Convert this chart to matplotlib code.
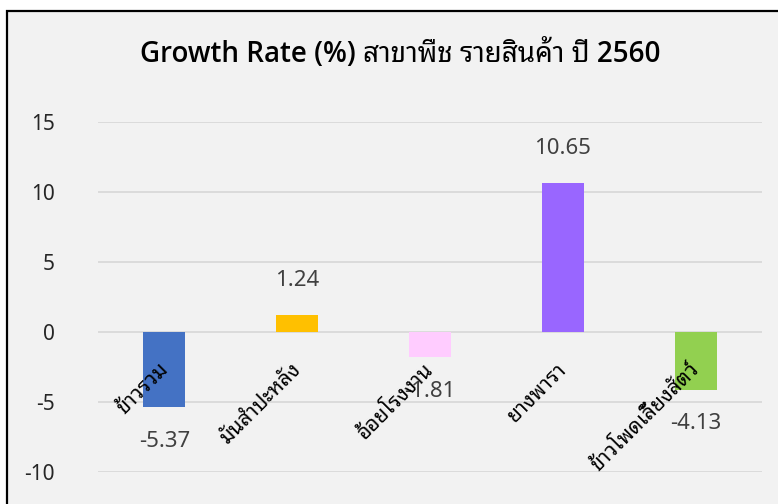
import matplotlib
matplotlib.use("Agg")
import matplotlib.pyplot as plt
from matplotlib.patches import Rectangle

plt.rcParams['font.family'] = ['Noto Sans', 'Noto Sans Thai Looped', 'DejaVu Sans']

categories = ['ข้าวรวม', 'มันสำปะหลัง', 'อ้อยโรงงาน', 'ยางพารา', 'ข้าวโพดเลี้ยงสัตว์']
growth = [-5.37, 1.24, -1.81, 10.65, -4.13]
colors = ['#4472C4', '#FFC000', '#FFCCFF', '#9966FF', '#92D050']
y_ticks = [-10, -5, 0, 5, 10, 15]
title = 'Growth Rate (%) สาขาพืช รายสินค้า ปี 2560'

fig = plt.figure(figsize=(7.78, 5.04), dpi=100, facecolor='white')

# gray chart panel with black frame on the left and top
W, H = 778, 504
panel = Rectangle((7 / W, -0.05), 1.05, (H - 11) / H + 0.05, transform=fig.transFigure,
                  facecolor='#F2F2F2', edgecolor='black', linewidth=1.6, zorder=-1)
fig.patches.append(panel)

ax = fig.add_axes([98 / W, (H - 472) / H, (762 - 98) / W, (472 - 122) / H])
ax.set_facecolor('none')

x = range(len(categories))
ax.bar(x, growth, width=0.316, color=colors, zorder=3)

ax.set_xlim(-0.5, len(categories) - 0.5)
ax.set_ylim(-10, 15)
ax.set_yticks(y_ticks)
ax.set_yticklabels([str(t) for t in y_ticks], fontsize=15, color='#262626')
ax.tick_params(axis='y', length=0, pad=31)
ax.set_xticks([])
ax.grid(axis='y', color='#D9D9D9', linewidth=1.3, zorder=1)
for s in ax.spines.values():
    s.set_visible(False)

# value labels outside the bar ends
for i, v in enumerate(growth):
    off = 34 if v > 0 else -34
    ax.annotate(f'{v:.2f}', xy=(i, v), xytext=(0, off), textcoords='offset pixels',
                ha='center', va='center', fontsize=16, color='#404040')

# category names rotated just under the zero line
for i, name in enumerate(categories):
    ax.annotate(name, xy=(i, 0), xytext=(-7, -27), textcoords='offset pixels',
                ha='right', va='top', rotation=45, rotation_mode='anchor',
                fontsize=15, color='black')

fig.text(400 / W, 1 - 54 / H, title, ha='center', va='center', fontsize=20,
         fontweight='semibold', color='black',
         family=['Open Sans', 'Noto Sans Thai Looped', 'DejaVu Sans'])

fig.savefig('out.png', dpi=100, facecolor='white')
